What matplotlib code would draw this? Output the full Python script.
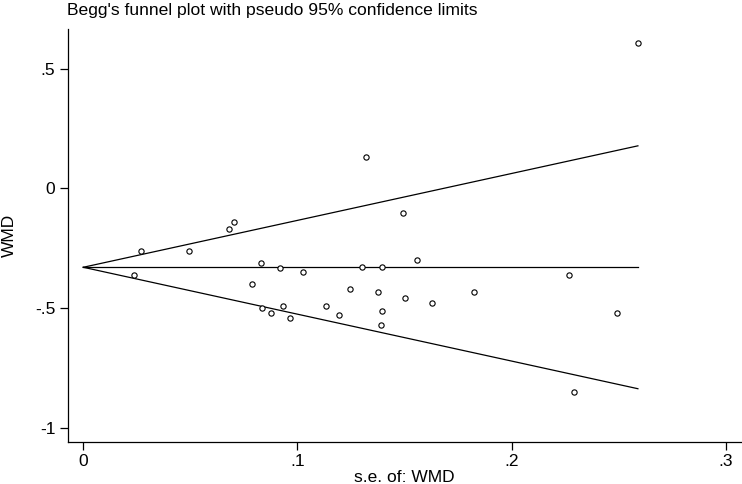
import matplotlib
matplotlib.use("Agg")
import matplotlib.pyplot as plt
import numpy as np

plt.rcParams["font.family"] = ["Liberation Sans", "DejaVu Sans"]
plt.rcParams["axes.unicode_minus"] = False

# study-level standard errors and WMD estimates
se = [0.0269, 0.0238, 0.0493, 0.0680, 0.0702, 0.0828, 0.0916, 0.1024,
      0.0786, 0.0835, 0.0874, 0.0933, 0.0963, 0.1133, 0.1195, 0.1318,
      0.1493, 0.1559, 0.1302, 0.1395, 0.1243, 0.1377, 0.1501, 0.1629,
      0.1826, 0.1395, 0.1388, 0.2265, 0.2490, 0.2290, 0.2589]
wmd = [-0.261, -0.362, -0.261, -0.171, -0.142, -0.312, -0.332, -0.351,
       -0.400, -0.500, -0.520, -0.492, -0.540, -0.492, -0.530, 0.129,
       -0.102, -0.301, -0.330, -0.330, -0.421, -0.432, -0.460, -0.480,
       -0.432, -0.511, -0.571, -0.361, -0.520, -0.850, 0.608]

pooled = -0.330
x_ticks = [0, 0.1, 0.2, 0.3]
x_labels = ["0", ".1", ".2", ".3"]
y_ticks = [-1, -0.5, 0, 0.5]
y_labels = ["-1", "-.5", "0", ".5"]

fig = plt.figure(figsize=(7.42, 4.84), dpi=100)
ax = fig.add_axes([0.0916, 0.0868, 0.907, 0.853])

se_max = max(se)
s_line = np.array([0.0, se_max])
ax.plot(s_line, [pooled, pooled], color="black", lw=0.9)
ax.plot(s_line, pooled + 1.96 * s_line, color="black", lw=0.9)
ax.plot(s_line, pooled - 1.96 * s_line, color="black", lw=0.9)

ax.plot(se, wmd, linestyle="none", marker="o", markersize=3.8,
        markerfacecolor="white", markeredgecolor="black", markeredgewidth=0.8)

ax.set_xlim(-0.00714, 0.307)
ax.set_ylim(-1.06, 0.665)
ax.set_xticks(x_ticks)
ax.set_xticklabels(x_labels)
ax.set_yticks(y_ticks)
ax.set_yticklabels(y_labels)

for side in ("top", "right"):
    ax.spines[side].set_visible(False)
for side in ("left", "bottom"):
    ax.spines[side].set_linewidth(0.9)
ax.tick_params(axis="both", direction="out", length=6, width=0.9,
               labelsize=12.5, pad=3)

# axis titles placed in figure coords so the x title sits at the very bottom
fig.text(0.545, 0.005, "s.e. of: WMD", fontsize=12.5, ha="center", va="baseline")
ax.set_ylabel("WMD", fontsize=12.5, labelpad=13)

fig.text(0.0903, 0.969, "Begg's funnel plot with pseudo 95% confidence limits",
         fontsize=12.6, ha="left", va="baseline")

fig.savefig("out.png", dpi=100, facecolor="white")
